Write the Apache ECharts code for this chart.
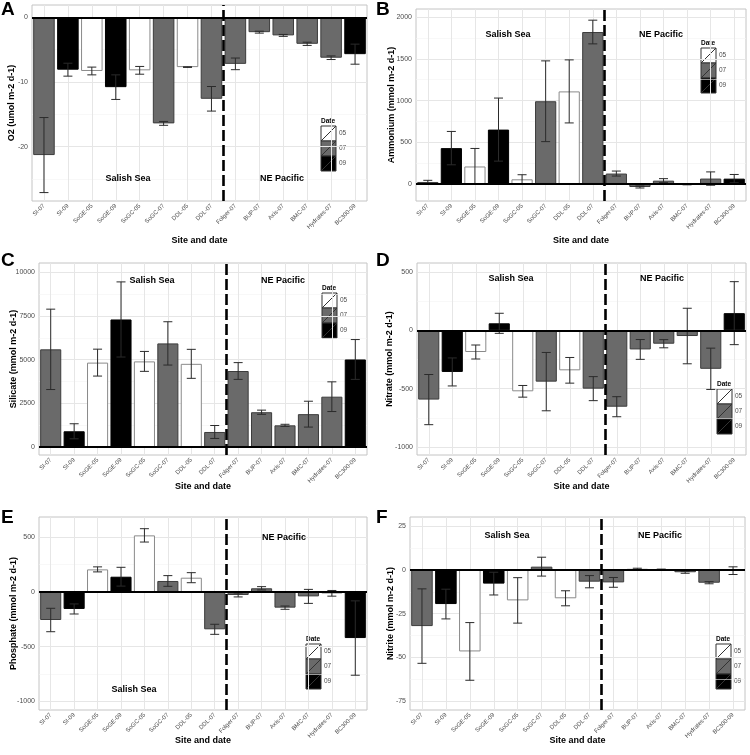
<!DOCTYPE html>
<html>
<head>
<meta charset="utf-8">
<script src="https://cdn.jsdelivr.net/npm/echarts@6/dist/echarts.min.js"></script>
<style>
  html, body { margin: 0; padding: 0; background: #fff; }
  #chart { width: 750px; height: 755px; }
</style>
</head>
<body>
<div id="chart"></div>
<script>
// sites and sampling month
const sites = ['SI-07', 'SI-09', 'SoGE-05', 'SoGE-09', 'SoGC-05', 'SoGC-07', 'DDL-05', 'DDL-07',
  'Folger-07', 'BUP-07', 'Axis-07', 'BMC-07', 'Hydrates-07', 'BC300-09'];
const dates = ['07', '09', '05', '09', '05', '07', '05', '07', '07', '07', '07', '07', '07', '09'];
const dateKeys = ['05', '07', '09'];

// fluxes (mean, error)
const o2Mean = [-21.3, -8.1, -8.3, -10.8, -8.2, -16.4, -7.7, -12.6, -7.2, -2.3, -2.8, -4.1, -6.25, -5.7];
const o2Err = [5.8, 1.0, 0.6, 1.9, 0.6, 0.3, 0.05, 1.9, 0.9, 0.15, 0.15, 0.25, 0.28, 1.55];

const ammMean = [24, 430, 210, 652, 56, 992, 1110, 1822, 125, -36, 40, -5, 65, 64];
const ammErr = [20, 200, 216, 378, 55, 484, 378, 142, 30, 12, 24, 5, 80, 50];

const silMean = [5590, 900, 4830, 7300, 4900, 5930, 4760, 860, 4350, 1990, 1240, 1880, 2880, 5010];
const silErr = [2300, 430, 770, 2150, 570, 1240, 830, 370, 480, 120, 60, 740, 850, 1140];

const nitMean = [-594, -357, -186, 60, -523, -440, -343, -500, -655, -164, -115, -49, -330, 147];
const nitErr = [215, 120, 60, 86, 50, 250, 110, 103, 86, 85, 35, 238, 177, 270];

const phoMean = [-256, -155, 207, 140, 518, 101, 131, -341, -27, 34, -143, -40, -12, -421];
const phoErr = [107, 46, 23, 86, 61, 49, 46, 46, 18, 15, 15, 64, 26, 340];

const noxMean = [-32.1, -19.5, -46.6, -7.8, -17.4, 1.9, -16.2, -6.7, -7.1, 0.6, 0.3, -1.3, -7.3, -0.4];
const noxErr = [21.3, 8.5, 16.5, 6.5, 13, 5.4, 4.3, 3.5, 2.8, 0.4, 0.2, 0.6, 0.6, 2.2];

// tick labels
const o2Ticks = [-20, -10, 0];
const o2Minor = [-25, -15, -5];
const ammTicks = [0, 500, 1000, 1500, 2000];
const ammMinor = [250, 750, 1250, 1750];
const silTicks = [0, 2500, 5000, 7500, 10000];
const silMinor = [1250, 3750, 6250, 8750];
const nitTicks = [-1000, -500, 0, 500];
const nitMinor = [-750, -250, 250];
const phoTicks = [-1000, -500, 0, 500];
const phoMinor = [-750, -250, 250];
const noxTicks = [-75, -50, -25, 0, 25];
const noxMinor = [-62.5, -37.5, -12.5, 12.5];

const FONT = 'Liberation Sans, Arial, sans-serif';
const fillByDate = { '05': '#ffffff', '07': '#6a6a6a', '09': '#000000' };
const edgeByDate = { '05': '#8a8a8a', '07': '#3c3c3c', '09': '#000000' };

const panels = [
  { tag: 'A', mean: o2Mean, err: o2Err, ticks: o2Ticks, minor: o2Minor, title: 'O2 (umol m-2 d-1)',
    min: -28.4, max: 1.9, grid: { left: 32, top: 5, width: 335, height: 196 }, yGap: 15.5, xGap: 35.5,
    letter: [1, 0], salish: [128, 179], pacific: [282, 179], legend: [321, 126] },
  { tag: 'B', mean: ammMean, err: ammErr, ticks: ammTicks, minor: ammMinor, title: 'Ammonium (mmol m-2 d-1)',
    min: -204, max: 2098, grid: { left: 416, top: 9, width: 330, height: 192 }, yGap: 19.5, xGap: 35.5,
    letter: [376, 0], salish: [508, 35], pacific: [661, 35], legend: [701, 48] },
  { tag: 'C', mean: silMean, err: silErr, ticks: silTicks, minor: silMinor, title: 'Silicate (mmol m-2 d-1)',
    min: -458, max: 10532, grid: { left: 39, top: 263, width: 328, height: 192 }, yGap: 20.5, xGap: 27,
    letter: [1, 251], salish: [152, 281], pacific: [283, 281], legend: [322, 293] },
  { tag: 'D', mean: nitMean, err: nitErr, ticks: nitTicks, minor: nitMinor, title: 'Nitrate (mmol m-2 d-1)',
    min: -1069, max: 577, grid: { left: 417, top: 263, width: 329, height: 192 }, yGap: 22.5, xGap: 27,
    letter: [376, 251], salish: [511, 279], pacific: [662, 279], legend: [717, 389] },
  { tag: 'E', mean: phoMean, err: phoErr, ticks: phoTicks, minor: phoMinor, title: 'Phosphate (mmol m-2 d-1)',
    min: -1079, max: 686, grid: { left: 39, top: 517, width: 328, height: 193 }, yGap: 20.5, xGap: 26.5,
    letter: [1, 508], salish: [134, 690], pacific: [284, 538], legend: [306, 644] },
  { tag: 'F', mean: noxMean, err: noxErr, ticks: noxTicks, minor: noxMinor, title: 'Nitrite (mmol m-2 d-1)',
    min: -80.1, max: 30.3, grid: { left: 410, top: 517, width: 335, height: 193 }, yGap: 14.5, xGap: 26.5,
    letter: [376, 508], salish: [507, 536], pacific: [660, 536], legend: [716, 644] }
];

const chart = echarts.init(document.getElementById('chart'));

const option = {
  animation: false,
  backgroundColor: '#fff',
  textStyle: { fontFamily: FONT },
  grid: [],
  xAxis: [],
  yAxis: [],
  series: [],
  graphic: []
};

function errorBar(params, api) {
  const x = api.value(0);
  const lo = api.coord([x, api.value(1)]);
  const hi = api.coord([x, api.value(2)]);
  const w = 4.5;
  const style = { stroke: '#2b2b2b', lineWidth: 1 };
  return {
    type: 'group',
    children: [
      { type: 'line', shape: { x1: lo[0], y1: lo[1], x2: hi[0], y2: hi[1] }, style },
      { type: 'line', shape: { x1: lo[0] - w, y1: lo[1], x2: lo[0] + w, y2: lo[1] }, style },
      { type: 'line', shape: { x1: hi[0] - w, y1: hi[1], x2: hi[0] + w, y2: hi[1] }, style }
    ]
  };
}

panels.forEach((p, i) => {
  option.grid.push(Object.assign({
    show: true, backgroundColor: '#fff', borderColor: '#c4c4c4', borderWidth: 1
  }, p.grid));

  // category axis
  option.xAxis.push({
    type: 'category', gridIndex: i, data: sites,
    name: 'Site and date', nameLocation: 'middle', nameGap: p.xGap, nameMoveOverlap: false,
    nameTextStyle: { fontSize: 9, fontWeight: 'bold', color: '#000', fontFamily: FONT },
    axisLine: { show: false },
    axisTick: { show: true, alignWithLabel: true, interval: 0, length: 3, lineStyle: { color: '#7a7a7a' } },
    axisLabel: { interval: 0, rotate: 45, fontSize: 6, color: '#4d4d4d', margin: 4, fontFamily: FONT },
    splitLine: { show: false }
  });
  // helper value axis for between-category lines
  option.xAxis.push({ type: 'value', gridIndex: i, min: -0.5, max: 13.5, show: false });

  option.yAxis.push({
    type: 'value', gridIndex: i, min: p.min, max: p.max,
    name: p.title, nameLocation: 'middle', nameGap: p.yGap, nameMoveOverlap: false,
    nameTextStyle: { fontSize: 9, fontWeight: 'bold', color: '#000', fontFamily: FONT },
    axisLine: { show: false },
    axisTick: { show: true, length: 3, customValues: p.ticks, lineStyle: { color: '#7a7a7a' } },
    axisLabel: {
      customValues: p.ticks, fontSize: 7, color: '#4d4d4d', margin: 4, fontFamily: FONT,
      formatter: v => String(v)
    },
    splitLine: { show: false }
  });

  const catX = 2 * i, valX = 2 * i + 1;

  // grid lines
  option.series.push({
    type: 'line', xAxisIndex: valX, yAxisIndex: i, data: [[7.5, 0]], symbol: 'none',
    lineStyle: { opacity: 0 }, silent: true,
    markLine: {
      silent: true, symbol: 'none', z: 1, animation: false,
      label: { show: false },
      data: [
        ...p.minor.map(v => ({ yAxis: v, lineStyle: { color: '#f3f3f3', width: 0.6, type: 'solid' } })),
        ...p.ticks.map(v => ({ yAxis: v, lineStyle: { color: '#e6e6e6', width: 1, type: 'solid' } })),
        ...sites.map((s, k) => ({ xAxis: k, lineStyle: { color: '#e6e6e6', width: 1, type: 'solid' } }))
      ]
    }
  });

  // bars
  option.series.push({
    type: 'bar', xAxisIndex: catX, yAxisIndex: i, barWidth: '90%', z: 2,
    data: p.mean.map((v, k) => ({
      value: v,
      itemStyle: { color: fillByDate[dates[k]], borderColor: edgeByDate[dates[k]], borderWidth: 1 }
    })),
    markLine: {
      silent: true, symbol: 'none', z: 4, animation: false,
      label: { show: false },
      lineStyle: { color: '#000', width: 1.8, type: 'solid' },
      data: [{ yAxis: 0 }]
    }
  });

  // error bars
  option.series.push({
    type: 'custom', xAxisIndex: catX, yAxisIndex: i, z: 3,
    renderItem: errorBar,
    encode: { x: 0, y: [1, 2] },
    data: p.mean.map((v, k) => [k, v - p.err[k], v + p.err[k]])
  });

  // dashed separator between Salish Sea and NE Pacific
  option.series.push({
    type: 'line', xAxisIndex: valX, yAxisIndex: i, data: [[7.5, 0]], symbol: 'none',
    lineStyle: { opacity: 0 }, silent: true,
    markLine: {
      silent: true, symbol: 'none', z: 6, animation: false,
      label: { show: false },
      lineStyle: { color: '#000', width: 2.6, type: [11, 4] },
      data: [{ xAxis: 7.5 }]
    }
  });

  // panel letter
  option.graphic.push({
    type: 'text', left: p.letter[0], top: p.letter[1],
    style: { text: p.tag, font: 'bold 19px ' + FONT, fill: '#000' }
  });

  // region labels
  [['Salish Sea', p.salish], ['NE Pacific', p.pacific]].forEach(([t, pos]) => {
    option.graphic.push({
      type: 'text', x: pos[0], y: pos[1], z: 10,
      style: { text: t, font: 'bold 9px ' + FONT, fill: '#000', align: 'center', verticalAlign: 'middle' }
    });
  });

  // legend
  const lx = p.legend[0], ly = p.legend[1], ks = 15;
  const kids = [{
    type: 'text', x: 0, y: -5,
    style: { text: 'Date', font: 'bold 6.5px ' + FONT, fill: '#000', verticalAlign: 'middle' }
  }];
  dateKeys.forEach((d, k) => {
    kids.push({
      type: 'rect', shape: { x: 0, y: k * ks, width: ks, height: ks },
      style: { fill: fillByDate[d], stroke: '#333', lineWidth: 1 }
    });
    kids.push({
      type: 'line', shape: { x1: 0, y1: (k + 1) * ks, x2: ks, y2: k * ks },
      style: { stroke: '#333', lineWidth: 1 }
    });
    kids.push({
      type: 'text', x: ks + 3, y: k * ks + ks / 2,
      style: { text: d, font: '6.5px ' + FONT, fill: '#4d4d4d', verticalAlign: 'middle' }
    });
  });
  option.graphic.push({ type: 'group', x: lx, y: ly, z: 10, children: kids });
});

chart.setOption(option);
</script>
</body>
</html>
